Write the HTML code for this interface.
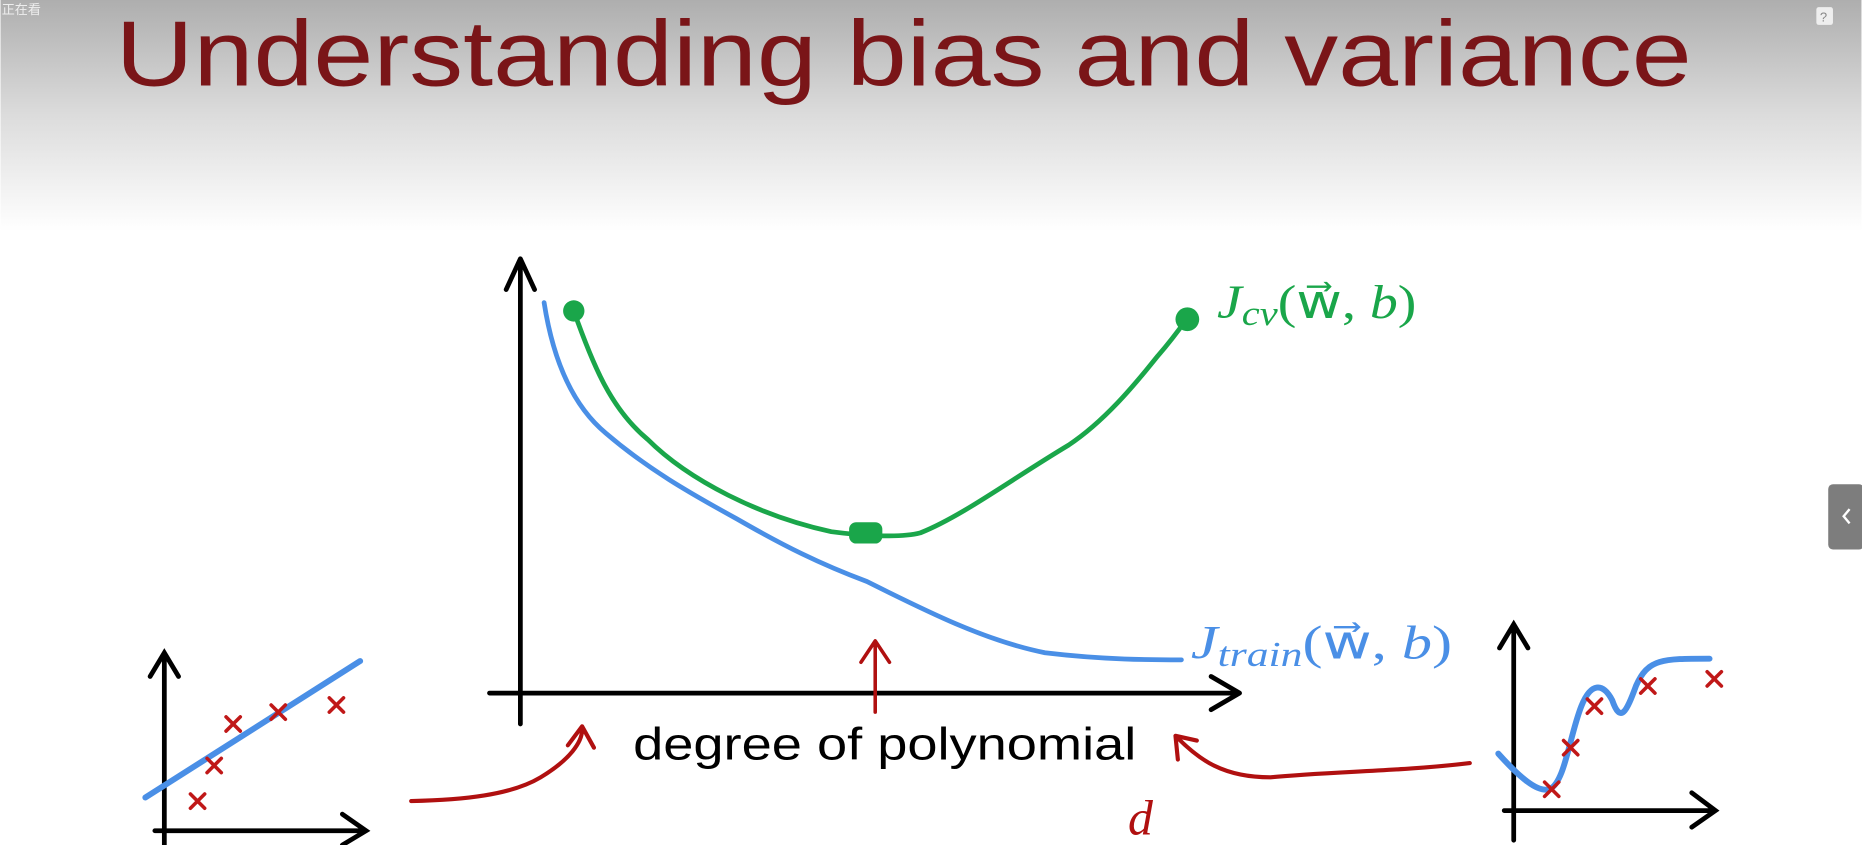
<!DOCTYPE html>
<html><head><meta charset="utf-8"><style>
html,body{margin:0;padding:0;width:1862px;height:845px;overflow:hidden;background:#fff}
svg{display:block}
</style></head><body>
<svg width="1862" height="845" viewBox="0 0 1568 712" xmlns="http://www.w3.org/2000/svg">
<defs>
<linearGradient id="bg" x1="0" y1="0" x2="0" y2="1">
<stop offset="0" stop-color="#aeaeae"/><stop offset="0.5" stop-color="#dcdcdc"/><stop offset="1" stop-color="#ffffff"/>
</linearGradient>
</defs>
<rect x="0" y="0" width="1568" height="195" fill="url(#bg)"/>
<text x="1" y="12" font-size="11" fill="#eee" font-family="Liberation Sans, Noto Sans CJK SC, sans-serif">正在看</text>
<rect x="1530" y="6" width="14" height="15" rx="2" fill="#eee"/>
<text x="1533" y="18" font-size="11" fill="#888" font-family="Liberation Sans, sans-serif">?</text>
<text x="97" y="72" font-size="78" textLength="1328" lengthAdjust="spacingAndGlyphs" fill="#7a1518" font-family="Liberation Sans, sans-serif">Understanding bias and variance</text>
<rect x="1540" y="408" width="30" height="55" rx="4" fill="#7d7d7d"/>
<path d="M1558 429 l-5 6 l5 6" stroke="#fff" stroke-width="2" fill="none"/>

<g stroke-linecap="round" stroke-linejoin="round" fill="none">
<path d="M438 610 V220 M426 244 L438 218 L450 244" stroke="#000" stroke-width="4"/>
<path d="M412 584 H1042 M1020 570 L1044 584 L1020 598" stroke="#000" stroke-width="4"/>
<path d="M483 262 C500 310 515 345 545 370 C580 405 640 435 700 448 C730 452 760 453 775 449 C810 435 850 405 900 375 C930 355 955 325 975 300 C988 285 995 275 1000 268" stroke="#1aa64a" stroke-width="4"/>
<circle cx="483" cy="262" r="9" fill="#1aa64a"/>
<circle cx="1000" cy="269" r="10" fill="#1aa64a"/>
<rect x="715" y="440" width="28" height="18" rx="6" fill="#1aa64a"/>
<path d="M458 255 C465 300 480 340 510 365 C545 395 580 415 620 437 C660 460 690 475 730 490 C780 515 830 540 880 550 C930 556 970 556 995 556" stroke="#4a8fe6" stroke-width="4"/>
<path d="M737 600 V542 M725 558 L737 540 L749 558" stroke="#b01010" stroke-width="3"/>
<path d="M346 675 C390 674 430 670 455 655 C480 640 490 625 490 615 M478 628 L490 612 L500 630" stroke="#b01010" stroke-width="3.5"/>
<path d="M1238 643 C1180 650 1120 650 1070 655 C1030 655 1010 640 992 622 M992 640 L990 620 L1008 624" stroke="#b01010" stroke-width="3.5"/>
</g>
<text x="1025" y="268" font-size="40" font-style="italic" fill="#1aa64a" font-family="Liberation Serif, serif" textLength="168" lengthAdjust="spacingAndGlyphs">J<tspan font-size="29" dy="6">cv</tspan><tspan dy="-6" font-style="normal">(w⃗, </tspan>b<tspan font-style="normal">)</tspan></text>
<text x="1003" y="555" font-size="40" font-style="italic" fill="#4a8fe6" font-family="Liberation Serif, serif" textLength="220" lengthAdjust="spacingAndGlyphs">J<tspan font-size="29" dy="6">train</tspan><tspan dy="-6" font-style="normal">(w⃗, </tspan>b<tspan font-style="normal">)</tspan></text>
<text x="533" y="640" font-size="38" textLength="424" lengthAdjust="spacingAndGlyphs" fill="#000" font-family="Liberation Sans, sans-serif">degree of polynomial</text>
<text x="950" y="703" font-size="42" font-style="italic" fill="#b01010" font-family="Liberation Serif, serif">d</text>

<g stroke-linecap="round" fill="none">
<path d="M138 712 V552 M126 570 L138 550 L150 570" stroke="#000" stroke-width="4"/>
<path d="M130 700 H306 M288 686 L308 700 L288 712" stroke="#000" stroke-width="4"/>
<path d="M122 672 L303 557" stroke="#4a8fe6" stroke-width="5"/>
<g stroke="#c01818" stroke-width="3">
<path d="M160 669 l12 12 M172 669 l-12 12"/><path d="M174 639 l12 12 M186 639 l-12 12"/><path d="M190 604 l12 12 M202 604 l-12 12"/><path d="M228 594 l12 12 M240 594 l-12 12"/><path d="M277 588 l12 12 M289 588 l-12 12"/>
</g>
</g>
<g stroke-linecap="round" fill="none">
<path d="M1275 708 V528 M1263 546 L1275 526 L1287 546" stroke="#000" stroke-width="4"/>
<path d="M1267 683 H1443 M1425 668 L1445 683 L1425 697" stroke="#000" stroke-width="4"/>
<path d="M1262 635 C1280 655 1295 668 1305 665 C1318 660 1322 620 1332 595 C1340 575 1350 575 1358 590 C1365 610 1370 600 1378 578 C1388 555 1400 555 1440 555" stroke="#4a8fe6" stroke-width="5"/>
<g stroke="#c01818" stroke-width="3">
<path d="M1301 659 l12 12 M1313 659 l-12 12"/><path d="M1317 624 l12 12 M1329 624 l-12 12"/><path d="M1337 589 l12 12 M1349 589 l-12 12"/><path d="M1382 572 l12 12 M1394 572 l-12 12"/><path d="M1438 566 l12 12 M1450 566 l-12 12"/>
</g>
</g>
</svg>
</body></html>
